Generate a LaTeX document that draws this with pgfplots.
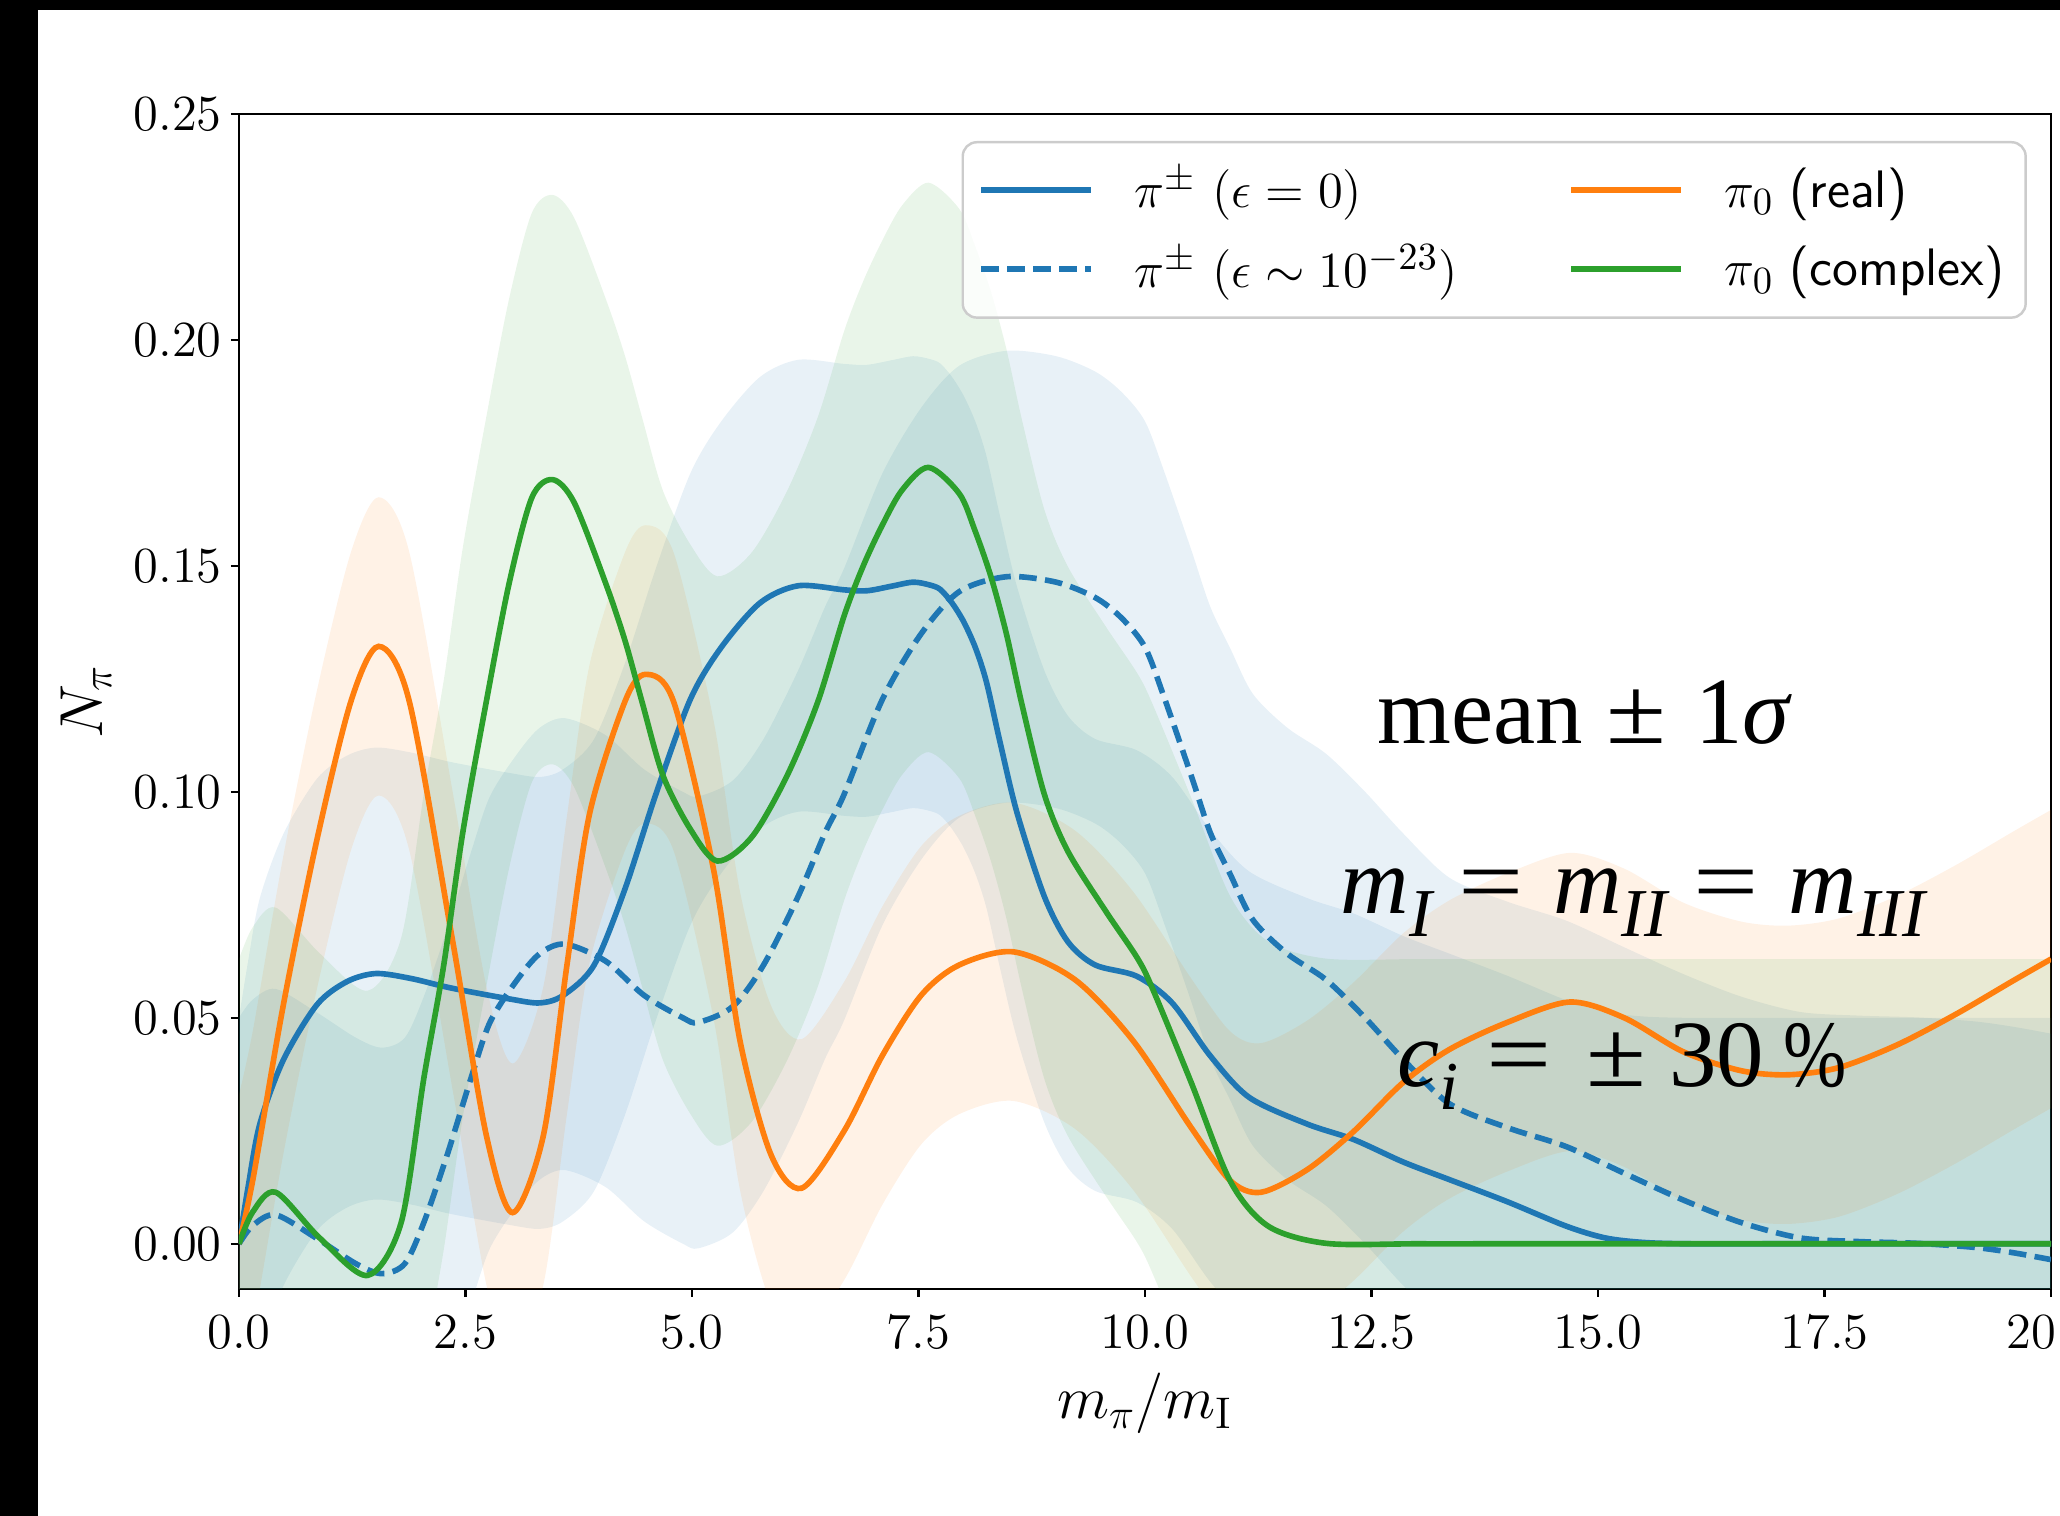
\documentclass[border=0pt]{standalone}
\usepackage{fontspec}
\usepackage{graphicx}
\usepackage{pgfplots}
\usepackage{pgfplotstable}
\pgfplotsset{compat=1.18}
\usepgfplotslibrary{fillbetween}
\newfontfamily\tms{Liberation Serif}
\definecolor{tabblue}{HTML}{1F77B4}
\definecolor{taborange}{HTML}{FF7F0E}
\definecolor{tabgreen}{HTML}{2CA02C}
\newcommand\sub[1]{\raisebox{-0.24em}{\fontsize{19.5}{20}\selectfont\itshape #1}}
\newcommand\eq{\scalebox{1.22}[1]{=}}
\newcommand\pmm{\scalebox{1.15}[1]{±}}

\pgfplotstableread{
x y
0 0
0.10 0.0125
0.23 0.0265
0.49 0.0407
0.86 0.0529
1.19 0.0580
1.51 0.0598
1.9 0.0587
2.34 0.0566
2.98 0.0542
3.32 0.0533
3.58 0.0550
3.92 0.0617
4.26 0.0785
4.60 0.0994
4.98 0.1204
5.32 0.1319
5.75 0.1418
6.17 0.1456
6.68 0.1447
6.93 0.1445
7.20 0.1455
7.44 0.1464
7.62 0.1458
7.74 0.1448
7.87 0.1418
8.00 0.1376
8.13 0.1318
8.25 0.1243
8.40 0.1110
8.59 0.0952
8.89 0.0768
9.15 0.0668
9.45 0.0617
9.91 0.0592
10.30 0.0533
10.72 0.0416
11.15 0.0324
11.79 0.0265
12.30 0.0231
12.85 0.0181
13.36 0.0142
14.00 0.0093
14.65 0.0039
15.08 0.0013
15.50 0.0003
16 0
17 0
18 0
19 0
20 0
}\dataBzero

\pgfplotstableread{
x y
0 0
0.15 0.0040
0.405 0.0064
0.85 0.0013
1.29 -0.0044
1.575 -0.0066
1.83 -0.0044
2.04 0.0047
2.30 0.0198
2.56 0.0366
2.77 0.0490
3.07 0.0584
3.32 0.0642
3.60 0.0663
4.05 0.0625
4.47 0.0550
4.90 0.0500
5.07 0.0490
5.45 0.0525
5.79 0.0617
6.17 0.0768
6.47 0.0910
6.68 0.0995
7.10 0.1204
7.53 0.1350
7.95 0.1443
8.47 0.1476
9.02 0.1464
9.45 0.1430
9.74 0.1385
10.00 0.1320
10.21 0.1210
10.51 0.1036
10.72 0.0910
10.94 0.0818
11.19 0.0717
11.57 0.0642
12.00 0.0584
12.43 0.0500
12.85 0.0408
13.36 0.0310
14.00 0.0257
14.65 0.0215
15.29 0.0156
15.94 0.0097
16.58 0.0047
17.23 0.0013
17.87 0.0005
18.52 0.0001
19.16 -0.0008
19.59 -0.0020
20.00 -0.0035
}\dataBone

\pgfplotstableread{
x y
0 0
0.155 0.0144
0.49 0.0529
0.86 0.0894
1.235 0.1200
1.542 0.1322
1.88 0.1200
2.36 0.0668
2.73 0.0240
3.02 0.0069
3.36 0.0240
3.62 0.0617
3.87 0.0952
4.26 0.1200
4.49 0.1260
4.80 0.1198
5.24 0.0826
5.53 0.0449
5.87 0.0198
6.21 0.0123
6.68 0.0250
7.10 0.0416
7.53 0.0550
7.95 0.0617
8.55 0.0646
9.23 0.0584
9.87 0.0449
10.51 0.0257
10.94 0.0140
11.28 0.0114
11.79 0.0164
12.30 0.0248
12.85 0.0357
13.36 0.0430
14.00 0.0490
14.69 0.0535
15.29 0.0500
15.94 0.0425
16.58 0.0383
17.10 0.0374
17.66 0.0390
18.30 0.0440
18.95 0.0508
19.59 0.0583
20.00 0.0630
}\dataOrange

\pgfplotstableread{
x y
0 0
0.15 0.0070
0.405 0.0114
0.89 0.0013
1.42 -0.0070
1.79 0.0047
2.04 0.0366
2.26 0.0617
2.47 0.0910
2.73 0.1200
2.98 0.1460
3.23 0.1650
3.46 0.1691
3.70 0.1640
4.05 0.1460
4.26 0.1335
4.45 0.1198
4.68 0.1036
4.98 0.0918
5.28 0.0847
5.66 0.0900
6.05 0.1036
6.39 0.1200
6.68 0.1390
6.89 0.1500
7.10 0.1590
7.32 0.1668
7.61 0.1718
7.95 0.1660
8.12 0.1580
8.30 0.1476
8.47 0.1350
8.64 0.1195
8.89 0.0994
9.15 0.0868
9.57 0.0735
9.91 0.0634
10.08 0.0566
10.51 0.0357
10.94 0.0139
11.36 0.0039
12.00 0.0001
13 0
14 0
15 0
16 0
17 0
18 0
19 0
20 0
}\dataGreen

\begin{document}
\begin{tikzpicture}
\begin{axis}[
  at={(0,0)}, anchor=south west,
  width=18.12cm, height=11.75cm, scale only axis,
  xmin=0, xmax=20, ymin=-0.01, ymax=0.25,
  xtick={0,2.5,5,7.5,10,12.5,15,17.5,20},
  ytick={0,0.05,0.1,0.15,0.2,0.25},
  xtick pos=left, ytick pos=left,
  tick align=outside,
  major tick length=0.08cm,
  tick style={black, line width=0.7pt},
  axis line style={line width=0.7pt},
  ticklabel style={font=\fontsize{14.5}{17}\selectfont},
  xticklabel style={yshift=-0.066cm, /pgf/number format/.cd, fixed, fixed zerofill, precision=1},
  yticklabel style={xshift=0.03cm, /pgf/number format/.cd, fixed, fixed zerofill, precision=2},
  xlabel={$m_\pi/m_{\mathrm{I}}$},
  ylabel={$N_\pi$},
  label style={font=\fontsize{18}{22}\selectfont},
  xlabel style={at={(axis description cs:0.5,0)}, anchor=base, yshift=-1.30cm},
  ylabel style={at={(axis description cs:0,0.5)}, anchor=center, rotate=0, yshift=1.53cm},
  legend columns=2, transpose legend,
  legend cell align=left,
  legend image code/.code={\draw[#1] (0cm,0cm) -- (1.1cm,0cm);},
  legend style={at={(0.9867,0.977)}, anchor=north east,
    draw=black!20, line width=0.7pt, rounded corners=4pt,
    fill=white, fill opacity=0.8, text opacity=1, draw opacity=1,
    font=\fontsize{15}{18}\selectfont,
    inner xsep=4.5pt, inner ysep=6pt, row sep=7pt,
    nodes={inner ysep=1pt, inner xsep=1.5pt},
    /tikz/every odd column/.append style={column sep=10pt},
    /tikz/every even column/.append style={column sep=30pt}},
]
% bands: mean +/- sigma
\addplot[draw=none, smooth, name path=b0u, forget plot] table[x=x, y expr=\thisrow{y}+0.05]{\dataBzero};
\addplot[draw=none, smooth, name path=b0l, forget plot] table[x=x, y expr=\thisrow{y}-0.05]{\dataBzero};
\addplot[fill=tabblue, fill opacity=0.1, draw=none, forget plot] fill between[of=b0u and b0l];
\addplot[draw=none, smooth, name path=b1u, forget plot] table[x=x, y expr=\thisrow{y}+0.05]{\dataBone};
\addplot[draw=none, smooth, name path=b1l, forget plot] table[x=x, y expr=\thisrow{y}-0.05]{\dataBone};
\addplot[fill=tabblue, fill opacity=0.1, draw=none, forget plot] fill between[of=b1u and b1l];
\addplot[draw=none, smooth, name path=ou, forget plot] table[x=x, y expr=\thisrow{y}+0.033]{\dataOrange};
\addplot[draw=none, smooth, name path=ol, forget plot] table[x=x, y expr=\thisrow{y}-0.033]{\dataOrange};
\addplot[fill=taborange, fill opacity=0.1, draw=none, forget plot] fill between[of=ou and ol];
\addplot[draw=none, smooth, name path=gu, forget plot] table[x=x, y expr=\thisrow{y}+0.063]{\dataGreen};
\addplot[draw=none, smooth, name path=gl, forget plot] table[x=x, y expr=\thisrow{y}-0.063]{\dataGreen};
\addplot[fill=tabgreen, fill opacity=0.1, draw=none, forget plot] fill between[of=gu and gl];
% means
\addplot[tabblue, line width=1.6pt, smooth] table[x=x,y=y]{\dataBzero};
\addlegendentry{$\pi^{\pm}$ $(\epsilon=0)$}
\addplot[tabblue, line width=1.6pt, smooth, dash pattern=on 5pt off 2.4pt] table[x=x,y=y]{\dataBone};
\addlegendentry{$\pi^{\pm}$ $(\epsilon\sim10^{-23})$}
\addplot[taborange, line width=1.6pt, smooth] table[x=x,y=y]{\dataOrange};
\addlegendentry{$\pi_0$ \textsf{(real)}}
\addplot[tabgreen, line width=1.6pt, smooth] table[x=x,y=y]{\dataGreen};
\addlegendentry{$\pi_0$ \textsf{(complex)}}
% annotations
\node[anchor=base west, inner sep=0pt, font=\tms\fontsize{27}{30}\selectfont] at (axis cs:12.56,0.1106) {mean\hspace{0.25em}\pmm\hspace{0.3em}1\textit{σ}};
\node[anchor=base west, inner sep=0pt, font=\tms\fontsize{27}{30}\selectfont] at (axis cs:12.15,0.0731) {\textit{m}\sub{I}\hspace{0.28em}\eq\hspace{0.31em}\textit{m}\sub{II}\hspace{0.28em}\eq\hspace{0.31em}\textit{m}\sub{III}};
\node[anchor=base west, inner sep=0pt, font=\tms\fontsize{27}{30}\selectfont] at (axis cs:12.78,0.0348) {\textit{c}\sub{i}\hspace{0.29em}\eq\hspace{0.37em}\pmm\hspace{0.24em}30\hspace{0.2em}\scalebox{0.8}[1]{\%}};
\end{axis}
\fill[black] (-2.39,-2.27) rectangle (-2.01,12.89);
\fill[black] (-2.39,12.785) rectangle (18.21,12.89);
\pgfresetboundingbox
\useasboundingbox (-2.39,-2.27) rectangle (18.21,12.89);
\end{tikzpicture}
\end{document}
